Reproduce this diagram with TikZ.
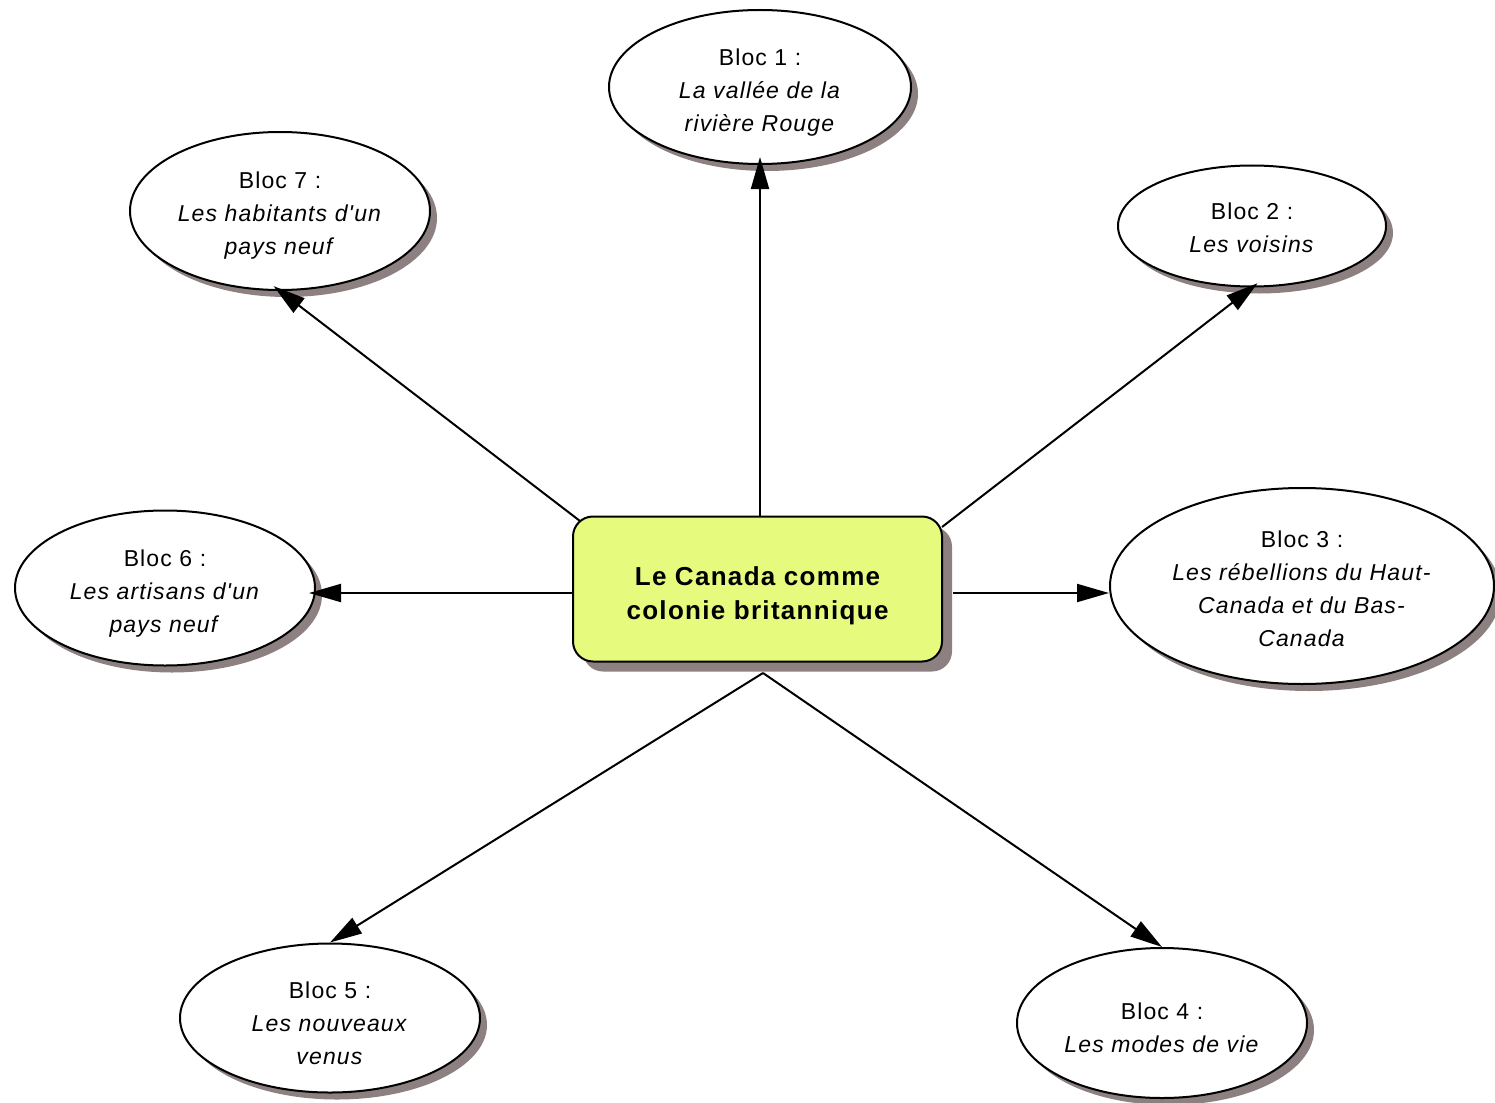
\documentclass[tikz,border=0pt]{standalone}
\usepackage{fontspec}
\setmainfont{Liberation Sans}[Ligatures=TeXOff,LetterSpace=5]
\usetikzlibrary{arrows.meta,shapes.geometric,shadows}
\definecolor{shadowc}{RGB}{140,128,128}
\definecolor{boxfill}{RGB}{230,250,126}
\begin{document}
\begin{tikzpicture}[x=1pt,y=-1pt,
  bloc/.style={ellipse, draw=black, line width=2pt, fill=white, inner sep=0pt,
    align=center, font=\fontsize{23}{33}\selectfont,
    general shadow={fill=shadowc, shadow xshift=7pt, shadow yshift=-7pt}},
  mainbox/.style={draw=black, line width=2pt, rounded corners=20pt, fill=boxfill,
    inner sep=0pt, align=center, font=\bfseries\fontsize{26}{34}\selectfont,
    general shadow={fill=shadowc, shadow xshift=10pt, shadow yshift=-10pt}},
  conn/.style={line width=2pt, -{Triangle[length=32pt,width=18pt]}}]
\useasboundingbox (0,0) rectangle (1495,1102);

\node[mainbox, minimum width=369pt, minimum height=145pt] (c) at (757.5,589)
  {\rule{0pt}{32pt}Le Canada comme\\colonie britannique};

\node[bloc, minimum width=302pt, minimum height=154pt] (b1) at (760,87)
  {\rule{0pt}{27pt}Bloc 1 :\\\textit{La vallée de la}\\\textit{rivière Rouge}};
\node[bloc, minimum width=268pt, minimum height=121pt] (b2) at (1252,226)
  {\rule{0pt}{20pt}Bloc 2 :\\\textit{Les voisins}};
\node[bloc, minimum width=384pt, minimum height=196pt] (b3) at (1302,586)
  {\rule{0pt}{23pt}Bloc 3 :\\\textit{Les rébellions du Haut-}\\\textit{Canada et du Bas-}\\\textit{Canada}};
\node[bloc, minimum width=290pt, minimum height=150pt] (b4) at (1162,1023)
  {\rule{0pt}{26pt}Bloc 4 :\\\textit{Les modes de vie}};
\node[bloc, minimum width=300pt, minimum height=149pt] (b5) at (330,1018)
  {\rule{0pt}{27pt}Bloc 5 :\\\textit{Les nouveaux}\\\textit{venus}};
\node[bloc, minimum width=300pt, minimum height=155pt] (b6) at (165,588)
  {\rule{0pt}{27pt}Bloc 6 :\\\textit{Les artisans d'un}\\\textit{pays neuf}};
\node[bloc, minimum width=300pt, minimum height=158pt] (b7) at (280,211)
  {\rule{0pt}{26pt}Bloc 7 :\\\textit{Les habitants d'un}\\\textit{pays neuf}};

\coordinate (s1) at (760,517);
\coordinate (s2) at (942,527);
\coordinate (s3) at (953,593);
\coordinate (s6) at (573,593);
\coordinate (s7) at (580,521);
\coordinate (sb) at (763,673);

\draw[conn, shorten >=-8pt] (s1) -- (s1 |- b1.south);
\draw[conn, shorten >=-7pt] (s2) -- (b2.south);
\draw[conn] (s3) -- (s3 -| b3.west);
\draw[conn] (sb) -- (b4.north);
\draw[conn] (sb) -- (b5.north);
\draw[conn, shorten >=-7pt] (s6) -- (s6 -| b6.east);
\draw[conn, shorten >=-8pt] (s7) -- (b7.south);
\end{tikzpicture}
\end{document}
